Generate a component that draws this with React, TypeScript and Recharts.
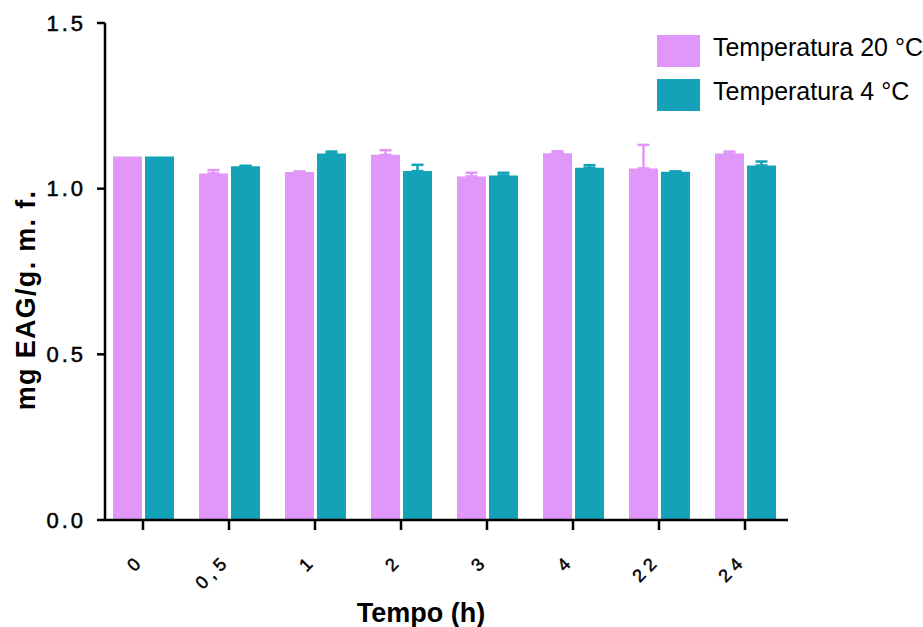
import { BarChart, Bar, XAxis, YAxis, ErrorBar, Legend } from 'recharts'

const tempos = ['0', '0,5', '1', '2', '3', '4', '22', '24']
const temp20 = [1.097, 1.046, 1.05, 1.102, 1.037, 1.107, 1.061, 1.106]
const temp20Err = [null, 0.01, 0.002, 0.014, 0.011, 0.006, 0.071, 0.006]
const temp4 = [1.097, 1.068, 1.106, 1.053, 1.04, 1.063, 1.051, 1.07]
const temp4Err = [null, 0.001, 0.006, 0.019, 0.008, 0.008, 0.001, 0.012]
const yTicks = [0, 0.5, 1.0, 1.5]

const PINK = '#E197F9'
const TEAL = '#14A2B8'
const FONT = '"Liberation Sans", Arial, sans-serif'

// errors only go upward, so the lower part is 0
const data = tempos.map((t, i) => ({
  tempo: t,
  t20: temp20[i],
  t20Err: temp20Err[i] == null ? null : [0, temp20Err[i]],
  t4: temp4[i],
  t4Err: temp4Err[i] == null ? null : [0, temp4Err[i]],
}))

// rotated x labels, anchored at the end of the text
const XTick = ({ x, y, payload }: any) => (
  <g transform={`translate(${x + 2},${y + 32})`}>
    <text
      textAnchor="end"
      transform="rotate(-45)"
      fontFamily={FONT}
      fontSize={18}
      letterSpacing={5}
      fill="#000"
      stroke="#000"
      strokeWidth={0.5}
    >
      {payload.value}
    </text>
  </g>
)

const LegendBox = ({ payload }: any) => (
  <div style={{ fontFamily: FONT }}>
    {(payload || []).map((item: any) => (
      <div key={item.value} style={{ display: 'flex', alignItems: 'center', height: 32, marginBottom: 12 }}>
        <div style={{ width: 43, height: 32, background: item.color, marginRight: 13 }} />
        <span style={{ fontSize: 25, color: '#000', position: 'relative', top: -4, whiteSpace: 'nowrap' }}>
          {item.value}
        </span>
      </div>
    ))}
  </div>
)

export default function App() {
  return (
    <div style={{ position: 'absolute', left: 0, top: 0, width: 923, height: 627, background: '#fff' }}>
      <BarChart
        width={923}
        height={627}
        data={data}
        margin={{ top: 23, right: 135, left: 0, bottom: 0 }}
        barCategoryGap={13}
        barGap={3}
      >
        <XAxis
          dataKey="tempo"
          height={107}
          padding={{ left: -5, right: 0 }}
          tick={<XTick />}
          tickSize={10}
          tickMargin={0}
          interval={0}
          axisLine={{ stroke: '#000', strokeWidth: 2.5 }}
          tickLine={{ stroke: '#000', strokeWidth: 2.5 }}
          label={{
            content: () => (
              <text x={421} y={622} textAnchor="middle" fontFamily={FONT} fontSize={27} fontWeight="bold" fill="#000">
                Tempo (h)
              </text>
            ),
          }}
        />
        <YAxis
          width={105}
          domain={[0, 1.5]}
          ticks={yTicks}
          tickFormatter={(v: number) => v.toFixed(1)}
          tickSize={8}
          tickMargin={11}
          axisLine={{ stroke: '#000', strokeWidth: 2.5 }}
          tickLine={{ stroke: '#000', strokeWidth: 2.5 }}
          tick={{ fill: '#000', stroke: '#000', strokeWidth: 0.5, fontSize: 22, fontFamily: FONT, letterSpacing: 3 }}
          label={{
            content: () => (
              <text
                x={35}
                y={300}
                textAnchor="middle"
                transform="rotate(-90, 35, 300)"
                fontFamily={FONT}
                fontSize={27}
                fontWeight="bold"
                letterSpacing={1.3}
                fill="#000"
              >
                mg EAG/g. m. f.
              </text>
            ),
          }}
        />
        <Legend
          layout="vertical"
          align="center"
          verticalAlign="middle"
          wrapperStyle={{ top: 35, left: 657, width: 266 }}
          content={<LegendBox />}
        />
        <Bar dataKey="t20" name="Temperatura 20 °C" fill={PINK} isAnimationActive={false}>
          <ErrorBar dataKey="t20Err" width={6} stroke={PINK} strokeWidth={2.5} direction="y" isAnimationActive={false} />
        </Bar>
        <Bar dataKey="t4" name="Temperatura 4 °C" fill={TEAL} isAnimationActive={false}>
          <ErrorBar dataKey="t4Err" width={6} stroke={TEAL} strokeWidth={2.5} direction="y" isAnimationActive={false} />
        </Bar>
      </BarChart>
    </div>
  )
}
